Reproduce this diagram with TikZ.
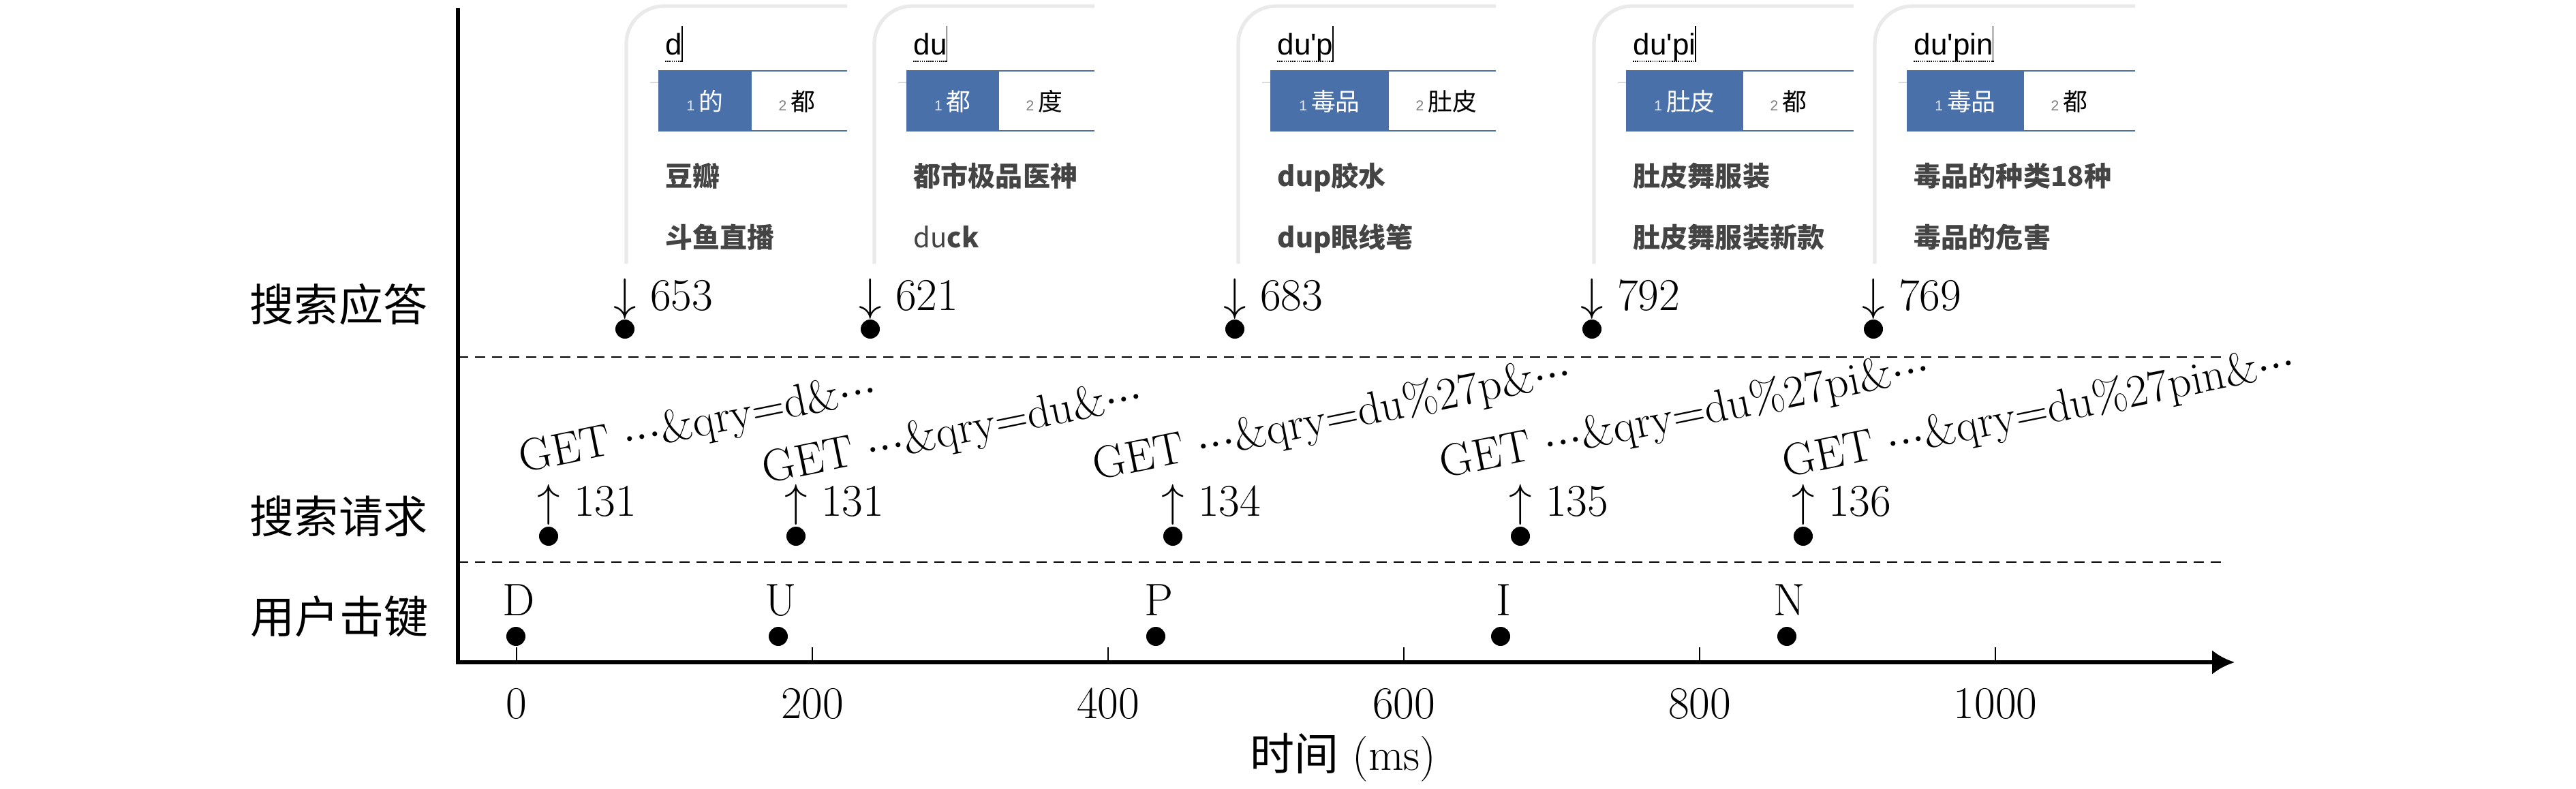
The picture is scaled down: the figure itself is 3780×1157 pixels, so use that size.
\RequirePackage{fix-cm}
\documentclass[tikz,border=0pt]{standalone}
\usepackage{fontspec}
\newfontfamily\cjk{Noto Sans CJK SC}
\newfontfamily\imefont[Ligatures=TeXOff]{Liberation Sans}
\usetikzlibrary{arrows.meta}
\definecolor{imeblue}{HTML}{4A70AA}
\definecolor{sugg}{HTML}{444444}
\definecolor{shadowc}{HTML}{EAEAEA}
\definecolor{sepc}{HTML}{DADADA}
\newcommand\candone{{\imefont\fontsize{6}{7}\selectfont\color{white!85!imeblue}1}\kern1.7pt}
\newcommand\candtwo{{\imefont\fontsize{6}{7}\selectfont\color{gray}2}\kern1.7pt}
\newcommand\cdt{$\cdotp\!\cdotp\!\cdotp$}
\newcommand\imeshot[9]{%
  \pgfmathsetmacro\Lx{#2}\pgfmathsetmacro\Bx{#2+47}%
  \pgfmathsetmacro\Ex{#3}\pgfmathsetmacro\Rx{#4}%
  \pgfmathsetmacro\Cx{(\Bx+\Ex)/2}%
  \draw[shadowc, line width=1.5pt, rounded corners=0.55cm] (\Lx,387) -- (\Lx,9) -- (\Rx,9);
  \draw[sepc, line width=0.6pt] (\Bx-12,121) -- (\Bx,121);
  \fill[imeblue] (\Bx,103) rectangle (\Ex,193);
  \draw[imeblue, line width=0.7pt] (\Ex,104) -- (\Rx,104) (\Ex,192) -- (\Rx,192);
  \node[cand, anchor=base, text=white] (#1c1) at (\Cx,162) {#6};
  \node[cand, anchor=base west] (#1c2) at (\Ex+39,162) {#7};
  \node[typed] (#1t) at (\Lx+57,80) {#5};
  \draw[line width=0.4pt] ([xshift=-0.01cm]#1t.base east) ++(0,-42) -- ++(0,53);
  \draw[line width=0.45pt, dash pattern=on 0.45pt off 0.45pt] ([yshift=-0.1cm]#1t.base west) -- ([yshift=-0.1cm]#1t.base east);
  \node[sug] (#1s1) at (\Lx+57,273) {#8};
  \node[sug] (#1s2) at (\Lx+57,363) {#9};
}
\begin{document}
\begin{tikzpicture}[x=0.01cm,y=-0.01cm,
  lm/.style={font=\fontsize{19}{23}\selectfont, inner sep=0pt},
  rowlab/.style={font=\cjk\fontsize{18.5}{22}\selectfont, inner sep=0pt},
  evdot/.style={circle, fill=black, inner sep=0pt, minimum size=0.28cm},
  getlab/.style={lm, anchor=base west, rotate=11.5},
  evlab/.style={lm, anchor=base west},
  typed/.style={font=\imefont\fontsize{12.5}{15}\selectfont, inner sep=0pt, anchor=base west},
  cand/.style={font=\cjk\fontsize{10.2}{12}\selectfont, inner sep=0pt},
  sug/.style={font=\cjk\bfseries\fontsize{11.4}{14}\selectfont, text=sugg, inner sep=0pt, anchor=base west},
  axisline/.style={line width=1.8pt, line join=miter},
  sepline/.style={line width=0.7pt, dash pattern=on 4.3pt off 2.8pt},
  tickline/.style={line width=0.7pt}]
\useasboundingbox (0,0) rectangle (3780,1157);

% axes
\coordinate (ytop) at (672,12);
\coordinate (xend) at (3279,972);
\draw[axisline, -{Latex[length=0.33cm,width=0.36cm]}] (ytop) |- (xend);
\foreach \v in {0,200,400,600,800,1000}{
  \pgfmathsetmacro\tx{758+\v*2.17}
  \coordinate (tk\v) at (\tx,972);
  \draw[tickline] (tk\v) -- ++(0,-22);
  \node[lm, anchor=base] (tl\v) at (\tx,1054) {\v};
}
\node[lm] (tlabel) at (1971,1112) {{\cjk\fontsize{18.5}{22}\selectfont 时间} (ms)};

% separators
\coordinate (s1a) at (672,524); \coordinate (s1b) at (3262,524);
\coordinate (s2a) at (672,825); \coordinate (s2b) at (3262,825);
\draw[sepline] (s1a) -- (s1b);
\draw[sepline] (s2a) -- (s2b);

% row labels
\node[rowlab] (r1) at (497,447) {搜索应答};
\node[rowlab] (r2) at (497,758) {搜索请求};
\node[rowlab] (r3) at (498,905) {用户击键};

% keystrokes
\foreach \n/\x/\l in {k1/757/D, k2/1142/U, k3/1696/P, k4/2202/I, k5/2622/N}{
  \node[evdot] (\n) at (\x,934) {};
  \node[lm, anchor=base] (\n l) at (\x+4,903) {\l};
}

% requests
\foreach \n/\x/\t in {q1/805/131, q2/1168/131, q3/1721/134, q4/2231/135, q5/2646/136}{
  \node[evdot] (\n) at (\x,787) {};
  \node[evlab] (\n l) at (\x-17,757) {$\uparrow$ \t};
}

% responses
\foreach \n/\x/\t in {p1/917/653, p2/1277/621, p3/1812/683, p4/2336/792, p5/2749/769}{
  \node[evdot] (\n) at (\x,483) {};
  \node[evlab] (\n l) at (\x-17,455) {$\downarrow$ \t};
}

% GET requests
\node[getlab] (g1) at (766,694) {GET \cdt\&qry=d\&\cdt};
\node[getlab] (g2) at (1123,710) {GET \cdt\&qry=du\&\cdt};
\node[getlab] (g3) at (1608,705) {GET \cdt\&qry=du\%27p\&\cdt};
\node[getlab] (g4) at (2117,702) {GET \cdt\&qry=du\%27pi\&\cdt};
\node[getlab] (g5) at (2620,701) {GET \cdt\&qry=du\%27pin\&\cdt};

% IME screenshots
\imeshot{a}{919}{1103}{1243}{d}{\candone 的}{\candtwo 都}{豆瓣}{斗鱼直播}
\imeshot{b}{1283}{1466}{1606}{du}{\candone 都}{\candtwo 度}{都市极品医神}{{\mdseries du}ck}
\imeshot{c}{1817}{2038}{2195}{du'p}{\candone 毒品}{\candtwo 肚皮}{dup胶水}{dup眼线笔}
\imeshot{d}{2339}{2558}{2720}{du'pi}{\candone 肚皮}{\candtwo 都}{肚皮舞服装}{肚皮舞服装新款}
\imeshot{e}{2751}{2970}{3133}{du'pin}{\candone 毒品}{\candtwo 都}{毒品的种类18种}{毒品的危害}
\end{tikzpicture}
\end{document}
